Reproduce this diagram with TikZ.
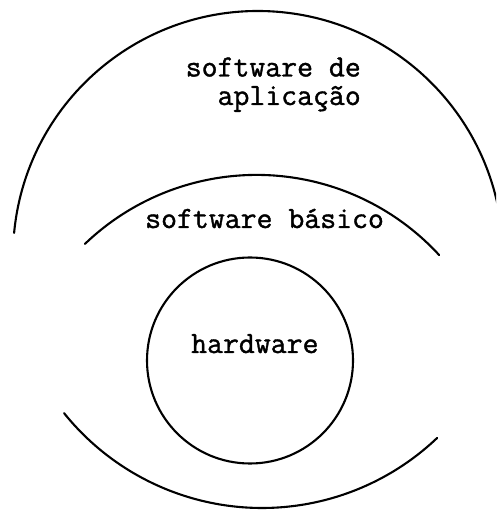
\documentclass[tikz,border=0pt]{standalone}
\usepackage{fontspec}
\newfontfamily\typewriter{Latin Modern Mono}[FakeBold=1.2]
\begin{document}
\begin{tikzpicture}[x=1pt,y=1pt,
  ring/.style={line width=2.1pt, line cap=round},
  lbl/.style={font=\typewriter\fontsize{30.9}{28.5}\selectfont, inner sep=0pt}]
\useasboundingbox (0,0) rectangle (496,510);
\begin{scope}
\clip (0,0) rectangle (496,510);
% outer arc (software de aplicacao)
\draw[ring] ([shift={(174.6:245)}]258,254) arc[start angle=174.6, end angle=0, radius=245];
% bottom arc
\draw[ring] ([shift={(218.8:254)}]262,256) arc[start angle=218.8, end angle=313.6, radius=254];
% middle arc (software basico)
\draw[ring] ([shift={(133.8:248)}]256.6,87.1) arc[start angle=133.8, end angle=42.6, radius=248];
\end{scope}
% hardware circle
\node[ring, draw, circle, minimum size=206pt, inner sep=0pt] (hw) at (250,149.5) {};
\node[lbl, anchor=base east, align=right] (app) at (361,405) {software de\\aplicação};
\node[lbl, anchor=base west] (basic) at (145,282) {software básico};
\node[lbl, anchor=base west] (hwl) at (191,157) {hardware};
\end{tikzpicture}
\end{document}
